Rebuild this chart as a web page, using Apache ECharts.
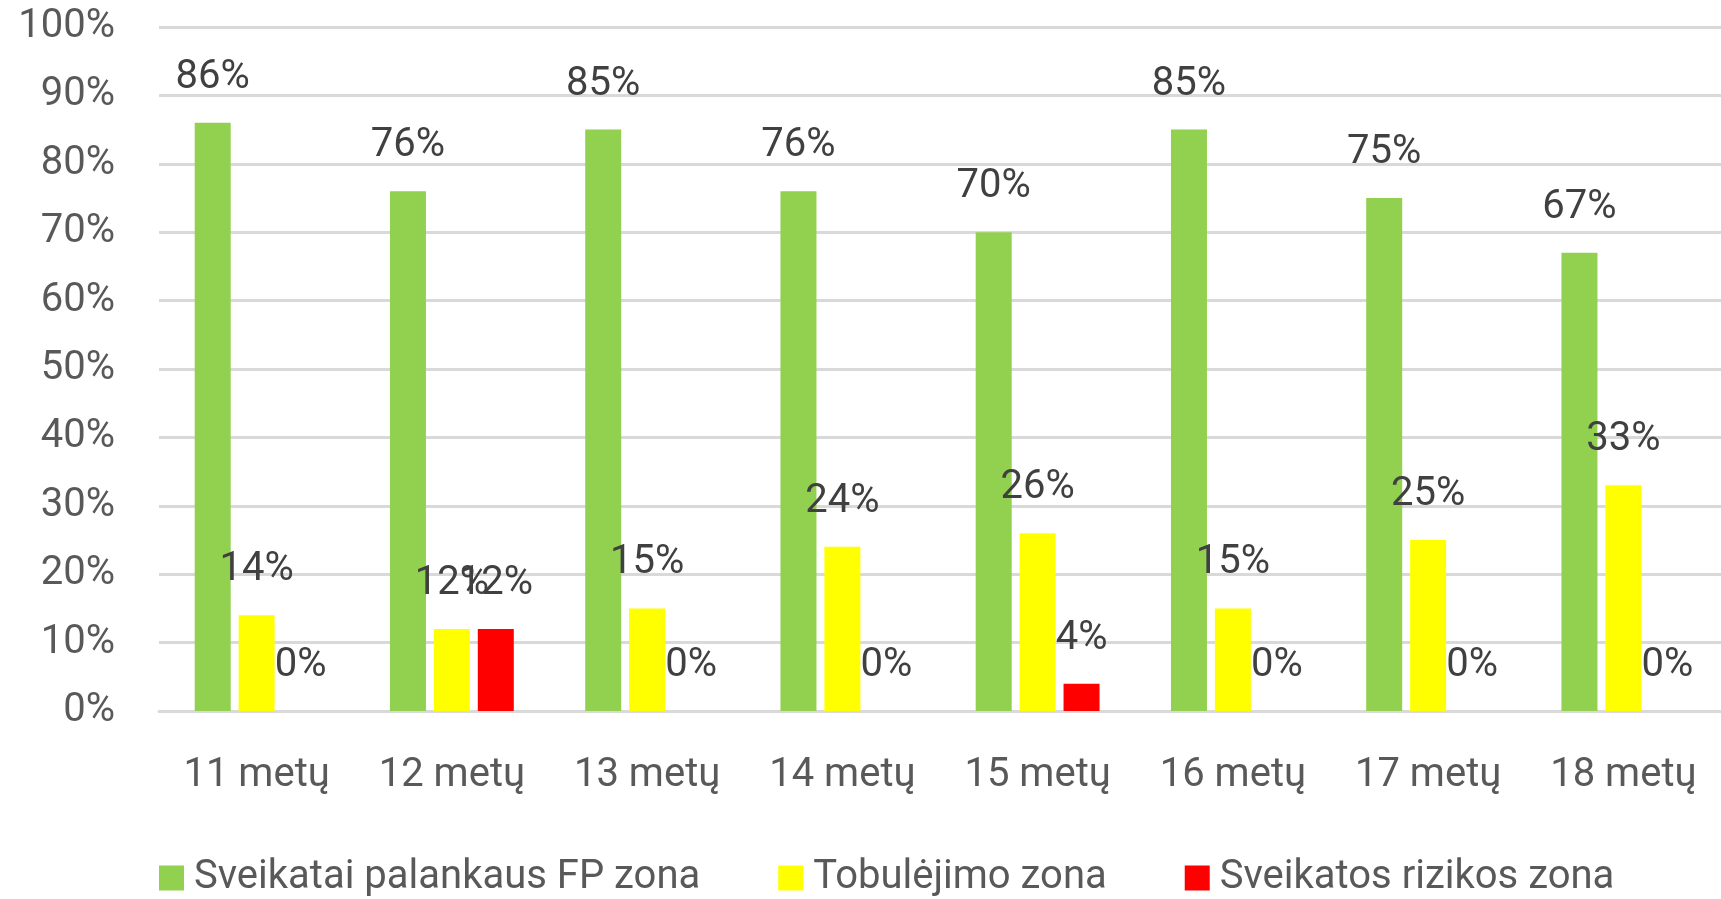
<!DOCTYPE html>
<html>
<head>
<meta charset="utf-8">
<script src="https://cdn.jsdelivr.net/npm/echarts@6/dist/echarts.min.js"></script>
<style>
  html, body { margin: 0; padding: 0; background: #fff; }
  #chart { width: 1721px; height: 899px; }
</style>
</head>
<body>
<div id="chart"></div>
<script>
const categories = ["11 metų", "12 metų", "13 metų", "14 metų", "15 metų", "16 metų", "17 metų", "18 metų"];
const palankausZona = [86, 76, 85, 76, 70, 85, 75, 67];
const tobulejimoZona = [14, 12, 15, 24, 26, 15, 25, 33];
const rizikosZona = [0, 12, 0, 0, 4, 0, 0, 0];
const yTicks = [0, 10, 20, 30, 40, 50, 60, 70, 80, 90, 100];

const FONT = "Roboto";

const chart = echarts.init(document.getElementById("chart"));

const barLabel = {
  show: true,
  position: "top",
  distance: 25,
  formatter: "{c}%",
  fontFamily: FONT,
  fontSize: 40,
  color: "#404040",
};

function makeSeries(name, data, color) {
  return {
    name: name,
    type: "bar",
    data: data,
    barWidth: 36,
    barGap: "22%",
    itemStyle: { color: color },
    label: barLabel,
  };
}

chart.setOption({
  animation: false,
  textStyle: { fontFamily: FONT },
  grid: { left: 159, top: 27, width: 1566, height: 684 },
  legend: {
    left: 154,
    top: 853,
    itemWidth: 25,
    itemHeight: 25,
    itemGap: 78,
    icon: "rect",
    textStyle: { fontFamily: FONT, fontSize: 40, color: "#595959", padding: [0, 0, 0, 5] },
  },
  xAxis: {
    type: "category",
    data: categories,
    axisLine: { show: true, lineStyle: { color: "#D9D9D9", width: 3 } },
    axisTick: { show: false },
    axisLabel: { fontFamily: FONT, fontSize: 40, color: "#595959", margin: 45 },
  },
  yAxis: {
    type: "value",
    min: yTicks[0],
    max: yTicks[yTicks.length - 1],
    interval: 10,
    axisLine: { show: false },
    axisTick: { show: false },
    splitLine: { lineStyle: { color: "#D9D9D9", width: 3 } },
    axisLabel: { fontFamily: FONT, fontSize: 40, color: "#595959", margin: 44, formatter: "{value}%" },
  },
  series: [
    makeSeries("Sveikatai palankaus FP zona", palankausZona, "#92D050"),
    makeSeries("Tobulėjimo zona", tobulejimoZona, "#FFFF00"),
    makeSeries("Sveikatos rizikos zona", rizikosZona, "#FF0000"),
  ],
});
</script>
</body>
</html>
